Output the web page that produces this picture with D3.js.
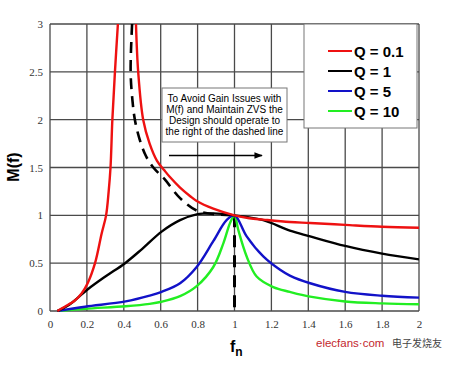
<!DOCTYPE html>
<html>
<head>
<meta charset="utf-8">
<script src="https://cdn.jsdelivr.net/npm/d3@7"></script>
<style>
  body { margin: 0; background: #fff; }
  svg { display: block; }
</style>
</head>
<body>
<div id="chart"></div>
<script>
// gain curves M(f) vs fn
var redFn = [0.04, 0.08, 0.135, 0.17, 0.204, 0.244, 0.28, 0.304, 0.318, 0.328, 0.338, 0.352, 0.368, 0.42, 0.466, 0.478, 0.505, 0.54, 0.58, 0.62, 0.65, 0.705, 0.76, 0.795, 0.885, 1.0, 1.08, 1.156, 1.3, 1.41, 1.6, 1.8, 2.0];
var redM  = [0, 0.045, 0.11, 0.18, 0.29, 0.5, 0.81, 1.0, 1.25, 1.5, 2.0, 2.5, 3.0, null, 3.0, 2.5, 2.0, 1.75, 1.57, 1.47, 1.4, 1.29, 1.2, 1.15, 1.07, 1.0, 0.97, 0.955, 0.93, 0.92, 0.9, 0.88, 0.87];

var blackFn = [0.04, 0.1, 0.2, 0.3, 0.407, 0.5, 0.605, 0.705, 0.795, 0.885, 1.0, 1.156, 1.3, 1.41, 1.6, 1.8, 2.0];
var blackM  = [0, 0.06, 0.22, 0.36, 0.5, 0.65, 0.83, 0.95, 1.01, 1.02, 1.0, 0.95, 0.84, 0.78, 0.68, 0.6, 0.54];

var blueFn = [0.04, 0.19, 0.41, 0.54, 0.605, 0.705, 0.795, 0.885, 0.957, 1.0, 1.066, 1.156, 1.247, 1.3, 1.41, 1.6, 1.8, 2.0];
var blueM  = [0, 0.045, 0.1, 0.16, 0.2, 0.29, 0.46, 0.73, 0.95, 1.0, 0.78, 0.57, 0.43, 0.37, 0.29, 0.2, 0.16, 0.14];

var greenFn = [0.04, 0.19, 0.41, 0.54, 0.605, 0.705, 0.795, 0.885, 0.94, 0.976, 1.0, 1.02, 1.066, 1.12, 1.21, 1.3, 1.41, 1.6, 1.8, 2.0];
var greenM  = [0, 0.024, 0.05, 0.075, 0.097, 0.155, 0.26, 0.46, 0.71, 0.92, 1.0, 0.85, 0.57, 0.36, 0.25, 0.2, 0.15, 0.1, 0.08, 0.07];

// dashed boundary
var dashFn = [0.445, 0.437, 0.447, 0.46, 0.485, 0.52, 0.56, 0.62, 0.705, 0.795, 0.9, 1.0];
var dashM  = [3.0, 2.5, 2.2, 2.0, 1.8, 1.62, 1.5, 1.38, 1.18, 1.05, 1.01, 1.0];

var seriesNames = ["Q = 0.1", "Q = 1", "Q = 5", "Q = 10"];
var seriesColors = ["#ee1111", "#000000", "#1212c8", "#22ee22"];

var xTicks = [0, 0.2, 0.4, 0.6, 0.8, 1, 1.2, 1.4, 1.6, 1.8, 2];
var yTicks = [0, 0.5, 1, 1.5, 2, 2.5, 3];

var noteLines = ["To Avoid Gain Issues with", "M(f) and Maintain ZVS the", "Design should operate to", "the right of the dashed line"];

var width = 461, height = 366;
var margin = {top: 24, right: 42, bottom: 55, left: 50};

var svg = d3.select("#chart").append("svg")
    .attr("width", width)
    .attr("height", height);

svg.append("rect").attr("width", width).attr("height", height).attr("fill", "#fff");

var x = d3.scaleLinear().domain([0, 2]).range([margin.left, width - margin.right]);
var y = d3.scaleLinear().domain([0, 3]).range([height - margin.bottom, margin.top]);

// grid
var grid = svg.append("g");
grid.selectAll("line.v").data(xTicks).enter().append("line")
    .attr("x1", d => x(d)).attr("x2", d => x(d))
    .attr("y1", y(0)).attr("y2", y(3))
    .attr("stroke", "#4a4a4a").attr("stroke-width", 1.3);
grid.selectAll("line.h").data(yTicks).enter().append("line")
    .attr("x1", x(0)).attr("x2", x(2))
    .attr("y1", d => y(d)).attr("y2", d => y(d))
    .attr("stroke", "#4a4a4a").attr("stroke-width", 1.3);

// axes labels (tick text only)
var xAxis = svg.append("g")
    .attr("transform", "translate(0," + y(0) + ")")
    .call(d3.axisBottom(x).tickValues(xTicks).tickSize(0).tickPadding(9).tickFormat(d3.format("")));
var yAxis = svg.append("g")
    .attr("transform", "translate(" + x(0) + ",0)")
    .call(d3.axisLeft(y).tickValues(yTicks).tickSize(0).tickPadding(7).tickFormat(d3.format("")));
[xAxis, yAxis].forEach(function(a) {
    a.select(".domain").remove();
    a.selectAll("text")
        .attr("font-family", "'Liberation Serif', 'Times New Roman', serif")
        .attr("font-size", 11)
        .attr("fill", "#333");
});

// clip so the red peak leaves the top edge
svg.append("clipPath").attr("id", "plotclip").append("rect")
    .attr("x", x(0)).attr("y", y(3) - 1)
    .attr("width", x(2) - x(0)).attr("height", y(0) - y(3) + 2);

var line = d3.line()
    .defined(d => d[1] !== null)
    .x(d => x(d[0]))
    .y(d => y(d[1]))
    .curve(d3.curveCatmullRom.alpha(0.5));

var curves = [
    d3.zip(redFn, redM),
    d3.zip(blackFn, blackM),
    d3.zip(blueFn, blueM),
    d3.zip(greenFn, greenM)
];

var plot = svg.append("g").attr("clip-path", "url(#plotclip)");

// dashed line first, then the curves
plot.append("path")
    .datum(d3.zip(dashFn, dashM))
    .attr("fill", "none")
    .attr("stroke", "#000")
    .attr("stroke-width", 2.6)
    .attr("stroke-dasharray", "11,7")
    .attr("d", line);

plot.append("path")
    .datum([[1, 1], [1, 0]])
    .attr("fill", "none")
    .attr("stroke", "#000")
    .attr("stroke-width", 3)
    .attr("stroke-dasharray", "12,8")
    .attr("d", d3.line().x(d => x(d[0])).y(d => y(d[1])));

plot.selectAll("path.curve")
    .data(curves.slice().reverse())
    .enter().append("path")
    .attr("class", "curve")
    .attr("fill", "none")
    .attr("stroke", (d, i) => seriesColors[3 - i])
    .attr("stroke-width", 2.4)
    .attr("d", line);

// legend box
var lg = svg.append("g");
lg.append("rect")
    .attr("x", 304).attr("y", margin.top)
    .attr("width", 113).attr("height", 104)
    .attr("fill", "#fff").attr("stroke", "#777").attr("stroke-width", 1);
seriesNames.forEach(function(name, i) {
    var yy = 51 + i * 20;
    lg.append("line")
        .attr("x1", 328).attr("x2", 352)
        .attr("y1", yy).attr("y2", yy)
        .attr("stroke", seriesColors[i]).attr("stroke-width", 2);
    lg.append("text")
        .attr("x", 354).attr("y", yy + 5.5)
        .attr("font-family", "'Liberation Sans', Arial, sans-serif")
        .attr("font-weight", "bold")
        .attr("font-size", 15)
        .attr("fill", "#000")
        .text(name);
});

// note box + arrow
var note = svg.append("g");
note.append("rect")
    .attr("x", 162).attr("y", 88)
    .attr("width", 125).attr("height", 54)
    .attr("fill", "#fff").attr("stroke", "#777").attr("stroke-width", 1);
note.selectAll("text").data(noteLines).enter().append("text")
    .attr("x", 224.5)
    .attr("y", (d, i) => 101.5 + i * 11.2)
    .attr("text-anchor", "middle")
    .attr("font-family", "'Liberation Sans', Arial, sans-serif")
    .attr("font-size", 10)
    .attr("fill", "#000")
    .text(d => d);

svg.append("defs").append("marker")
    .attr("id", "arrowhead")
    .attr("viewBox", "0 0 10 10")
    .attr("refX", 9).attr("refY", 5)
    .attr("markerWidth", 6).attr("markerHeight", 6)
    .attr("orient", "auto")
    .append("path").attr("d", "M0,1 L10,5 L0,9 z").attr("fill", "#000");
note.append("line")
    .attr("x1", 169).attr("x2", 262)
    .attr("y1", 155.5).attr("y2", 155.5)
    .attr("stroke", "#000").attr("stroke-width", 1.4)
    .attr("marker-end", "url(#arrowhead)");

// axis titles
svg.append("text")
    .attr("transform", "translate(19," + 167 + ") rotate(-90)")
    .attr("text-anchor", "middle")
    .attr("font-family", "'Liberation Sans', Arial, sans-serif")
    .attr("font-weight", "bold")
    .attr("font-size", 16)
    .text("M(f)");

var fn = svg.append("text")
    .attr("x", 230).attr("y", 352)
    .attr("font-family", "'Liberation Sans', Arial, sans-serif")
    .attr("font-weight", "bold")
    .attr("font-size", 16);
fn.append("tspan").text("f");
fn.append("tspan").attr("dy", 4).attr("font-size", 12).text("n");

// watermark
var wm = svg.append("text")
    .attr("x", 316).attr("y", 347)
    .attr("font-family", "'Liberation Sans', Arial, sans-serif")
    .attr("font-size", 11.5)
    .attr("fill", "#c3272e")
    .text("elecfans·com");
svg.append("text")
    .attr("x", 392).attr("y", 347)
    .attr("font-family", "'Noto Sans CJK SC', sans-serif")
    .attr("font-size", 10)
    .attr("fill", "#444")
    .text("电子发烧友");
</script>
</body>
</html>
